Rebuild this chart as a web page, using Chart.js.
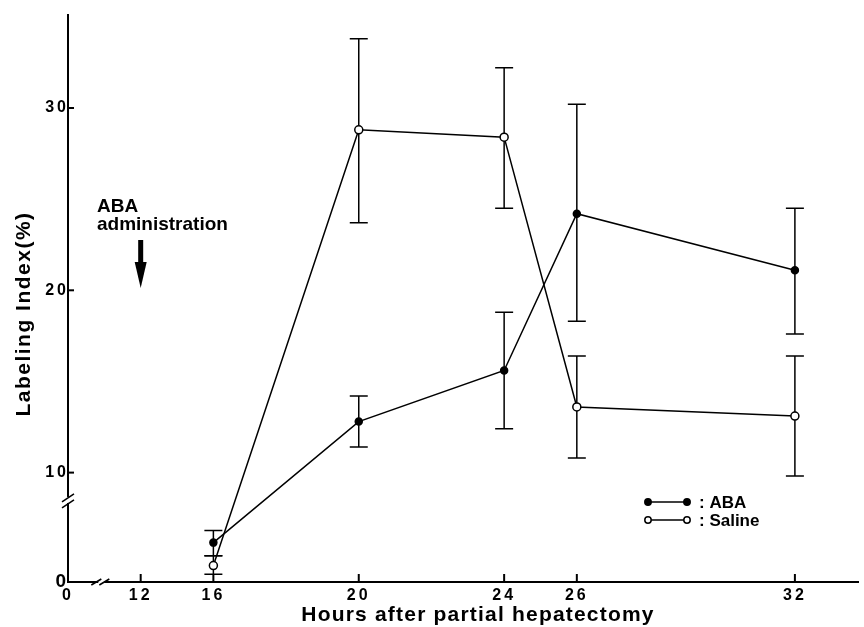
<!DOCTYPE html>
<html>
<head>
<meta charset="utf-8">
<script src="https://cdn.jsdelivr.net/npm/chart.js@4.4.0/dist/chart.umd.min.js"></script>
<style>
html, body { margin: 0; padding: 0; background: #fff; }
#wrap { width: 864px; height: 627px; position: relative; }
</style>
</head>
<body>
<div id="wrap"><canvas id="chart"></canvas></div>
<script>
// Horas tras la hepatectomía (eje x) y etiquetas de los ejes
const hours = [16, 20, 24, 26, 32];
const xTickHours = [0, 12, 16, 20, 24, 26, 32];
const yTickValues = [0, 10, 20, 30];

// ABA: media y límites de la barra de error
const abaMean = [3.6, 12.8, 15.6, 24.2, 21.1];
const abaLow  = [2.4, 11.4, 12.4, 18.3, 17.6];
const abaHigh = [4.7, 14.2, 18.8, 30.2, 24.5];

// Saline
const salineMean = [1.5, 28.8, 28.4, 13.6, 13.1];
const salineLow  = [0.7, 23.7, 24.5, 10.8, 9.7];
const salineHigh = [2.4, 33.8, 32.2, 16.4, 16.4];

// Los dos ejes están cortados: pasamos el valor real a la posición del eje
function xPos(h) {
    if (h >= 16) return h;
    if (h >= 12) return 14 + (h - 12) / 2;
    return 12 + h / 6;
}
function yPos(v) {
    return v >= 10 ? v : 4 + 0.6 * v;
}

const xTickPos = xTickHours.map(xPos);
const yTickPos = yTickValues.map(yPos);

const FONT = "'Liberation Sans', Arial, sans-serif";

// Espaciado de letras de las etiquetas de los ejes (como en el original)
const spacing = {
    id: 'spacing',
    beforeDraw(chart) { chart.ctx.letterSpacing = '3px'; },
    beforeDatasetsDraw(chart) { chart.ctx.letterSpacing = '0px'; }
};

// Barras de error (antes que las líneas para que los círculos blancos las tapen)
const errorBars = {
    id: 'errorBars',
    beforeDatasetsDraw(chart) {
        const { ctx, scales: { x, y } } = chart;
        ctx.save();
        ctx.strokeStyle = '#000';
        ctx.lineWidth = 1.5;
        [[abaLow, abaHigh], [salineLow, salineHigh]].forEach(([lo, hi]) => {
            hours.forEach((h, i) => {
                const px = x.getPixelForValue(xPos(h));
                const y1 = y.getPixelForValue(yPos(lo[i]));
                const y2 = y.getPixelForValue(yPos(hi[i]));
                ctx.beginPath();
                ctx.moveTo(px, y1); ctx.lineTo(px, y2);
                ctx.moveTo(px - 9, y1); ctx.lineTo(px + 9, y1);
                ctx.moveTo(px - 9, y2); ctx.lineTo(px + 9, y2);
                ctx.stroke();
            });
        });
        ctx.restore();
    }
};

// Marcas hacia dentro, cortes de eje, títulos, flecha y leyenda
const extras = {
    id: 'extras',
    afterDraw(chart) {
        const { ctx, scales: { x, y } } = chart;
        const x0 = x.left, y0 = y.bottom;
        ctx.save();
        ctx.letterSpacing = '0px';
        ctx.strokeStyle = '#000';
        ctx.fillStyle = '#000';
        ctx.lineWidth = 2;

        // marcas del eje y
        yTickPos.slice(1).forEach(v => {
            const py = y.getPixelForValue(v);
            ctx.beginPath(); ctx.moveTo(x0, py); ctx.lineTo(x0 + 6, py); ctx.stroke();
        });
        // marcas del eje x
        xTickPos.slice(1).forEach(v => {
            const px = x.getPixelForValue(v);
            ctx.beginPath(); ctx.moveTo(px, y0); ctx.lineTo(px, y0 - 8); ctx.stroke();
        });

        // corte del eje x
        const bx = x.getPixelForValue(xPos(5.5));
        ctx.fillStyle = '#fff';
        ctx.fillRect(bx - 3, y0 - 3, 6, 6);
        ctx.lineWidth = 1.5;
        ctx.beginPath();
        ctx.moveTo(bx - 10, y0 + 3); ctx.lineTo(bx, y0 - 3);
        ctx.moveTo(bx - 2, y0 + 3); ctx.lineTo(bx + 8, y0 - 3);
        ctx.stroke();

        // corte del eje y
        const by = y.getPixelForValue(8.5);
        ctx.fillRect(x0 - 3, by - 3, 6, 6);
        ctx.beginPath();
        ctx.moveTo(x0 - 6, by + 2); ctx.lineTo(x0 + 6, by - 6);
        ctx.moveTo(x0 - 6, by + 8); ctx.lineTo(x0 + 6, by);
        ctx.stroke();

        // títulos de los ejes
        ctx.fillStyle = '#000';
        ctx.font = 'bold 21px ' + FONT;
        ctx.textAlign = 'center';
        ctx.textBaseline = 'alphabetic';
        ctx.letterSpacing = '1.2px';
        ctx.fillText('Hours after partial hepatectomy', 478, 621);
        ctx.save();
        ctx.translate(30, 314);
        ctx.rotate(-Math.PI / 2);
        ctx.letterSpacing = '1.5px';
        ctx.fillText('Labeling Index(%)', 0, 0);
        ctx.restore();
        ctx.letterSpacing = '0px';

        // texto y flecha de la administración de ABA
        ctx.font = 'bold 19px ' + FONT;
        ctx.textAlign = 'left';
        ctx.fillText('ABA', 97, 212);
        ctx.fillText('administration', 97, 230);
        const ax = x.getPixelForValue(xPos(12));
        ctx.fillRect(ax - 2.5, 240, 5, 25);
        ctx.beginPath();
        ctx.moveTo(ax - 6, 262); ctx.lineTo(ax + 6, 262); ctx.lineTo(ax, 288);
        ctx.closePath(); ctx.fill();

        // leyenda
        const rows = [[502, ': ABA', true], [520, ': Saline', false]];
        ctx.font = 'bold 17px ' + FONT;
        ctx.textBaseline = 'middle';
        rows.forEach(([ly, label, filled]) => {
            ctx.lineWidth = 1.5;
            ctx.beginPath(); ctx.moveTo(648, ly); ctx.lineTo(687, ly); ctx.stroke();
            [648, 687].forEach(cx => {
                ctx.beginPath(); ctx.arc(cx, ly, 3.2, 0, Math.PI * 2);
                ctx.fillStyle = filled ? '#000' : '#fff';
                ctx.fill(); ctx.stroke();
            });
            ctx.fillStyle = '#000';
            ctx.fillText(label, 699, ly + 1);
        });
        ctx.restore();
    }
};

new Chart(document.getElementById('chart'), {
    type: 'line',
    data: {
        datasets: [
            {
                label: 'ABA',
                data: hours.map((h, i) => ({ x: xPos(h), y: yPos(abaMean[i]) })),
                borderColor: '#000',
                borderWidth: 1.5,
                pointBackgroundColor: '#000',
                pointBorderColor: '#000',
                pointRadius: 3.5,
                tension: 0
            },
            {
                label: 'Saline',
                data: hours.map((h, i) => ({ x: xPos(h), y: yPos(salineMean[i]) })),
                borderColor: '#000',
                borderWidth: 1.5,
                pointBackgroundColor: '#fff',
                pointBorderColor: '#000',
                pointBorderWidth: 1.5,
                pointRadius: 4,
                tension: 0
            }
        ]
    },
    options: {
        responsive: true,
        maintainAspectRatio: false,
        animation: false,
        clip: false,
        layout: { padding: { top: 15, right: 0, left: 0, bottom: 0 } },
        plugins: { legend: { display: false }, tooltip: { enabled: false } },
        scales: {
            x: {
                type: 'linear',
                min: 12,
                max: 33.75,
                afterFit: s => { s.height = 45; },
                afterBuildTicks: s => { s.ticks = xTickPos.map(v => ({ value: v })); },
                grid: { display: false, drawTicks: false },
                border: { display: true, color: '#000', width: 2 },
                ticks: {
                    color: '#000',
                    padding: 4,
                    maxRotation: 0,
                    autoSkip: false,
                    font: { family: FONT, size: 16, weight: 'bold' },
                    callback: v => String(xTickHours[xTickPos.indexOf(v)])
                }
            },
            y: {
                type: 'linear',
                min: 4,
                max: 35.1,
                afterFit: s => { s.width = 68; },
                afterBuildTicks: s => { s.ticks = yTickPos.map(v => ({ value: v })); },
                grid: { display: false, drawTicks: false },
                border: { display: true, color: '#000', width: 2 },
                ticks: {
                    color: '#000',
                    padding: -1,
                    autoSkip: false,
                    font: ctx => ({ family: FONT, size: ctx.tick && ctx.tick.value === 4 ? 19 : 16, weight: 'bold' }),
                    callback: v => String(yTickValues[yTickPos.indexOf(v)])
                }
            }
        }
    },
    plugins: [spacing, errorBars, extras]
});
</script>
</body>
</html>
